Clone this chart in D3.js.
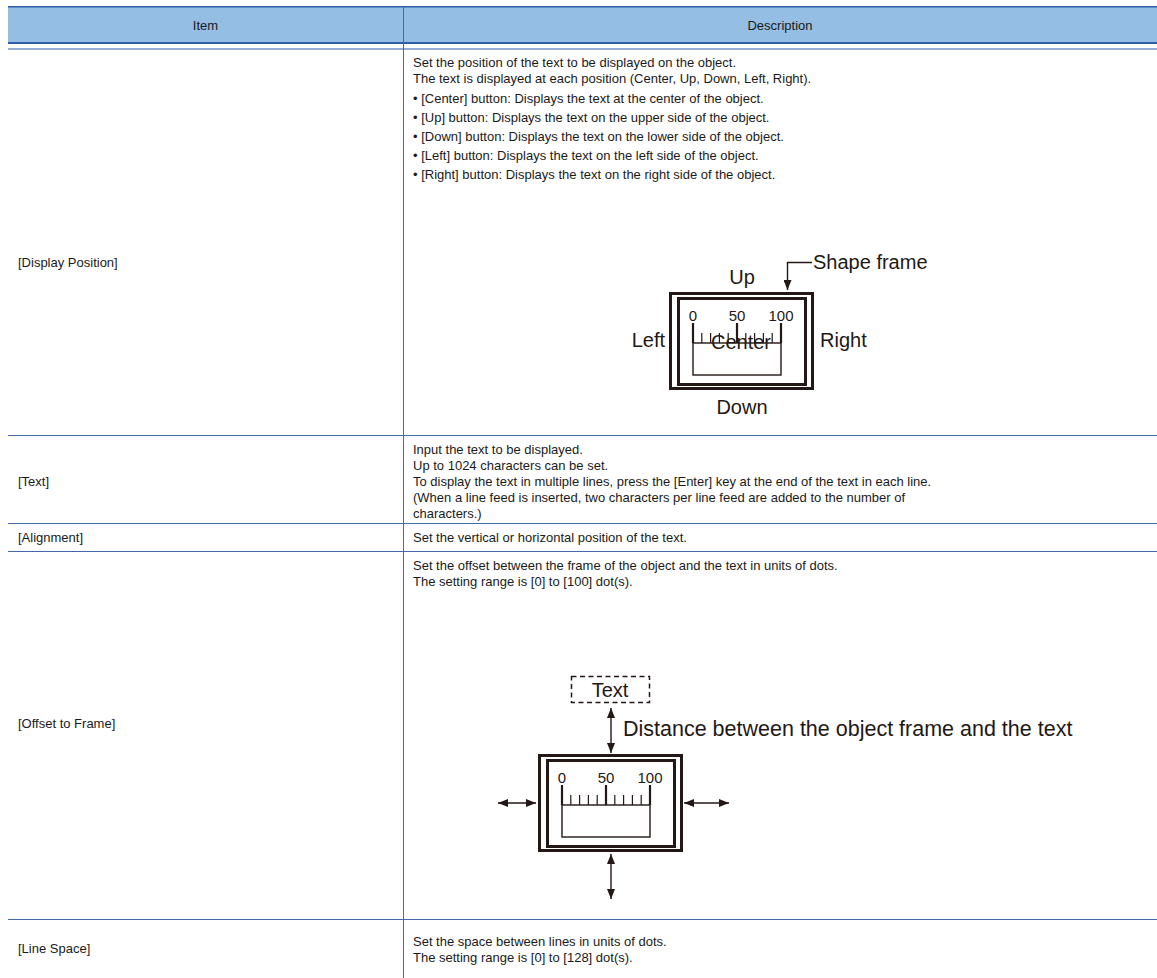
<!DOCTYPE html>
<html><head><meta charset="utf-8">
<script src="https://cdn.jsdelivr.net/npm/d3@7"></script>
<style>
html,body{margin:0;padding:0;background:#fff;}
svg{display:block;font-family:"Liberation Sans",Arial,sans-serif;}
</style></head>
<body>
<svg id="chart" width="1157" height="978"></svg>
<script>
// ---- data ----
const headers = ["Item", "Description"];
const items = ["[Display Position]", "[Text]", "[Alignment]", "[Offset to Frame]", "[Line Space]"];
const desc0 = [
  "Set the position of the text to be displayed on the object.",
  "The text is displayed at each position (Center, Up, Down, Left, Right).",
  "• [Center] button: Displays the text at the center of the object.",
  "• [Up] button: Displays the text on the upper side of the object.",
  "• [Down] button: Displays the text on the lower side of the object.",
  "• [Left] button: Displays the text on the left side of the object.",
  "• [Right] button: Displays the text on the right side of the object."
];
const desc1 = [
  "Input the text to be displayed.",
  "Up to 1024 characters can be set.",
  "To display the text in multiple lines, press the [Enter] key at the end of the text in each line.",
  "(When a line feed is inserted, two characters per line feed are added to the number of",
  "characters.)"
];
const desc2 = ["Set the vertical or horizontal position of the text."];
const desc3 = [
  "Set the offset between the frame of the object and the text in units of dots.",
  "The setting range is [0] to [100] dot(s)."
];
const desc4 = [
  "Set the space between lines in units of dots.",
  "The setting range is [0] to [128] dot(s)."
];
const scaleTicks = [0, 50, 100];
const scaleMinor = [10, 20, 30, 40, 60, 70, 80, 90];
const posLabels = ["Up", "Down", "Left", "Right", "Center"];
const frameLabel = "Shape frame";
const textBoxLabel = "Text";
const distanceLabel = "Distance between the object frame and the text";

// ---- layout ----
const svg = d3.select("#chart");
const L = 8, R = 1157, DIV = 403;
const headTop = 6, headBot = 43, headBot2 = 49;
const rowLines = [435, 523, 551, 919];
const blue = "#2f5ca8", thin = "#4468ae", ink = "#231815", txt = "#1a1a1a";

svg.append("rect").attr("x", L).attr("y", headTop).attr("width", R - L).attr("height", headBot - headTop).attr("fill", "#94bee3");
svg.append("line").attr("x1", L).attr("x2", R).attr("y1", headTop + 0.75).attr("y2", headTop + 0.75).attr("stroke", blue).attr("stroke-width", 1.5);
svg.append("line").attr("x1", L).attr("x2", R).attr("y1", headBot).attr("y2", headBot).attr("stroke", blue).attr("stroke-width", 2);
svg.append("line").attr("x1", L).attr("x2", R).attr("y1", headBot2).attr("y2", headBot2).attr("stroke", blue).attr("stroke-width", 1.2);
svg.selectAll("line.row").data(rowLines).enter().append("line").attr("class", "row")
  .attr("x1", L).attr("x2", R).attr("y1", d => d + 0.5).attr("y2", d => d + 0.5).attr("stroke", thin).attr("stroke-width", 1);
svg.append("line").attr("x1", DIV + 0.5).attr("x2", DIV + 0.5).attr("y1", headTop).attr("y2", 978).attr("stroke", thin).attr("stroke-width", 1);

// header text
svg.selectAll("text.hd").data(headers).enter().append("text").attr("class", "hd")
  .attr("x", (d, i) => i === 0 ? (L + DIV) / 2 : (DIV + R) / 2).attr("y", 25).attr("dy", "0.35em")
  .attr("text-anchor", "middle").attr("font-size", 13).attr("fill", txt).text(d => d);

// item labels
const itemY = [262, 481, 537, 723, 948];
svg.selectAll("text.item").data(items).enter().append("text").attr("class", "item")
  .attr("x", 18).attr("y", (d, i) => itemY[i]).attr("dy", "0.35em").attr("font-size", 13).attr("fill", txt).text(d => d);

// description lines
function descLines(lines, ys) {
  svg.append("g").selectAll("text").data(lines).enter().append("text")
    .attr("x", 413).attr("y", (d, i) => ys[i]).attr("dy", "0.35em").attr("font-size", 13).attr("fill", txt).text(d => d);
}
descLines(desc0, [62, 78, 98, 117, 136, 155, 174]);
descLines(desc1, [449, 465, 481, 497, 513]);
descLines(desc2, [537]);
descLines(desc3, [565, 581]);
descLines(desc4, [941, 957]);

// arrow marker
const defs = svg.append("defs");
defs.append("marker").attr("id", "ah").attr("viewBox", "0 0 10 8").attr("refX", 10).attr("refY", 4)
  .attr("markerWidth", 11).attr("markerHeight", 8).attr("markerUnits", "userSpaceOnUse").attr("orient", "auto-start-reverse")
  .append("path").attr("d", "M0,0L10,4L0,8Z").attr("fill", ink);

// gauge drawing
function gauge(ox, oy) {
  const g = svg.append("g");
  g.append("rect").attr("x", ox + 1.5).attr("y", oy + 1.5).attr("width", 142).attr("height", 95)
    .attr("fill", "#fff").attr("stroke", ink).attr("stroke-width", 3);
  g.append("rect").attr("x", ox + 9.5).attr("y", oy + 6.5).attr("width", 127).attr("height", 86)
    .attr("fill", "none").attr("stroke", ink).attr("stroke-width", 3);
  const x = d3.scaleLinear().domain([0, 100]).range([ox + 24, ox + 112]);
  g.append("rect").attr("x", x(0)).attr("y", oy + 51).attr("width", x(100) - x(0)).attr("height", 32)
    .attr("fill", "none").attr("stroke", ink).attr("stroke-width", 1.4);
  g.selectAll("line.maj").data(scaleTicks).enter().append("line")
    .attr("x1", d => x(d)).attr("x2", d => x(d)).attr("y1", oy + 31).attr("y2", oy + 51)
    .attr("stroke", ink).attr("stroke-width", 2.2);
  g.selectAll("line.min").data(scaleMinor).enter().append("line")
    .attr("x1", d => x(d)).attr("x2", d => x(d)).attr("y1", oy + 41).attr("y2", oy + 51)
    .attr("stroke", ink).attr("stroke-width", 1.2);
  g.selectAll("text.lab").data(scaleTicks).enter().append("text")
    .attr("x", d => x(d)).attr("y", oy + 24).attr("dy", "0.35em").attr("text-anchor", "middle")
    .attr("font-size", 15).attr("fill", ink).text(d => d);
  return g;
}

// diagram 1
const d1x = 669, d1y = 292;
gauge(d1x, d1y);
const big = 20;
const p1 = [
  {t: posLabels[0], x: 742, y: 277, a: "middle"},
  {t: posLabels[1], x: 742, y: 407, a: "middle"},
  {t: posLabels[2], x: 665, y: 340, a: "end"},
  {t: posLabels[3], x: 820, y: 340, a: "start"},
  {t: posLabels[4], x: 741, y: 342, a: "middle"}
];
svg.append("g").selectAll("text").data(p1).enter().append("text")
  .attr("x", d => d.x).attr("y", d => d.y).attr("dy", "0.35em").attr("text-anchor", d => d.a)
  .attr("font-size", big).attr("fill", ink).text(d => d.t);
svg.append("path").attr("d", "M812,262.5H787.5V290").attr("fill", "none").attr("stroke", ink).attr("stroke-width", 1.4)
  .attr("marker-end", "url(#ah)");
svg.append("text").attr("x", 813).attr("y", 262).attr("dy", "0.35em").attr("font-size", big).attr("fill", ink).text(frameLabel);

// diagram 2
const d2x = 538, d2y = 754;
gauge(d2x, d2y);
svg.append("rect").attr("x", 571.5).attr("y", 676.5).attr("width", 78).attr("height", 26)
  .attr("fill", "none").attr("stroke", ink).attr("stroke-width", 1.5).attr("stroke-dasharray", "5,3.5");
svg.append("text").attr("x", 610).attr("y", 690).attr("dy", "0.35em").attr("text-anchor", "middle")
  .attr("font-size", big).attr("fill", ink).text(textBoxLabel);
svg.append("text").attr("x", 623).attr("y", 728).attr("dy", "0.35em")
  .attr("font-size", 21.5).attr("fill", ink).text(distanceLabel);
const arrows = [
  [611, 708, 611, 753],
  [498, 803, 536, 803],
  [684, 803, 729, 803],
  [611, 854, 611, 899]
];
svg.append("g").selectAll("line").data(arrows).enter().append("line")
  .attr("x1", d => d[0]).attr("y1", d => d[1]).attr("x2", d => d[2]).attr("y2", d => d[3])
  .attr("stroke", ink).attr("stroke-width", 1.4)
  .attr("marker-start", "url(#ah)").attr("marker-end", "url(#ah)");
</script>
</body></html>
